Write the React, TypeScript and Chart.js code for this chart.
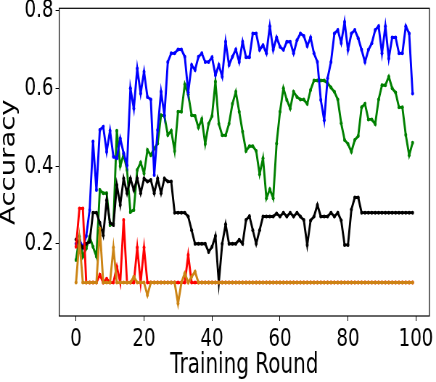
import React, { useEffect, useRef } from "react";
import { Chart, registerables } from "chart.js";

Chart.register(...registerables);

// ---- data ----
const rounds: number[] = Array.from({ length: 100 }, (_, i) => i);

const blueAcc = [
  0.20, 0.21, 0.19, 0.22, 0.287, 0.463, 0.338, 0.493, 0.501, 0.437,
  0.491, 0.424, 0.42, 0.471, 0.433, 0.402, 0.60, 0.548, 0.651, 0.587,
  0.643, 0.578, 0.571, 0.377, 0.493, 0.591, 0.531, 0.668, 0.69, 0.69,
  0.70, 0.70, 0.681, 0.59, 0.66, 0.647, 0.681, 0.69, 0.668, 0.668,
  0.68, 0.634, 0.66, 0.63, 0.72, 0.66, 0.681, 0.70, 0.668, 0.72,
  0.68, 0.68, 0.741, 0.741, 0.699, 0.711, 0.69, 0.76, 0.699, 0.731,
  0.707, 0.699, 0.72, 0.72, 0.69, 0.724, 0.741, 0.735, 0.709, 0.731,
  0.69, 0.668, 0.57, 0.518, 0.626, 0.668, 0.741, 0.75, 0.717, 0.771,
  0.699, 0.741, 0.75, 0.729, 0.699, 0.668, 0.699, 0.716, 0.75, 0.76,
  0.69, 0.76, 0.677, 0.731, 0.731, 0.69, 0.69, 0.76, 0.741, 0.587,
];

const greenAcc = [
  0.158, 0.218, 0.167, 0.188, 0.218, 0.192, 0.167, 0.338, 0.330, 0.330,
  0.248, 0.252, 0.491, 0.40, 0.43, 0.390, 0.282, 0.287, 0.390, 0.409,
  0.381, 0.441, 0.428, 0.445, 0.458, 0.531, 0.529, 0.480, 0.491, 0.439,
  0.540, 0.540, 0.610, 0.585, 0.531, 0.529, 0.499, 0.521, 0.457, 0.509,
  0.529, 0.617, 0.509, 0.479, 0.479, 0.509, 0.560, 0.591, 0.540, 0.488,
  0.439, 0.451, 0.451, 0.439, 0.379, 0.420, 0.317, 0.340, 0.317, 0.458,
  0.540, 0.600, 0.570, 0.548, 0.591, 0.578, 0.571, 0.571, 0.560, 0.596,
  0.620, 0.620, 0.620, 0.620, 0.613, 0.602, 0.591, 0.571, 0.510, 0.467,
  0.457, 0.437, 0.467, 0.477, 0.551, 0.560, 0.520, 0.520, 0.508, 0.571,
  0.608, 0.608, 0.630, 0.600, 0.589, 0.551, 0.551, 0.480, 0.428, 0.460,
];

const blackAcc = [
  0.211, 0.20, 0.19, 0.20, 0.205, 0.28, 0.28, 0.254, 0.222, 0.312,
  0.254, 0.248, 0.351, 0.30, 0.368, 0.33, 0.368, 0.338, 0.368, 0.33,
  0.368, 0.36, 0.364, 0.33, 0.368, 0.33, 0.368, 0.36, 0.36, 0.28,
  0.28, 0.28, 0.28, 0.27, 0.235, 0.20, 0.20, 0.20, 0.20, 0.179,
  0.192, 0.22, 0.10, 0.20, 0.25, 0.20, 0.20, 0.20, 0.21, 0.20,
  0.261, 0.271, 0.235, 0.20, 0.235, 0.27, 0.27, 0.27, 0.27, 0.278,
  0.27, 0.28, 0.27, 0.28, 0.27, 0.28, 0.27, 0.261, 0.197, 0.26,
  0.27, 0.30, 0.27, 0.27, 0.27, 0.28, 0.27, 0.28, 0.26, 0.197,
  0.197, 0.288, 0.319, 0.319, 0.28, 0.28, 0.28, 0.28, 0.28, 0.28,
  0.28, 0.28, 0.28, 0.28, 0.28, 0.28, 0.28, 0.28, 0.28, 0.28,
];

const redAcc = [
  0.192, 0.291, 0.291, 0.1, 0.1, 0.1, 0.1, 0.12, 0.1, 0.11,
  0.1, 0.1, 0.141, 0.1, 0.261, 0.1, 0.1, 0.1, 0.19, 0.1,
  0.19, 0.1, 0.1, 0.1, 0.1, 0.1, 0.1, 0.1, 0.1, 0.1,
  0.1, 0.1, 0.1, 0.171, 0.1, 0.1, 0.1, 0.1, 0.1, 0.1,
  0.1, 0.1, 0.1, 0.1, 0.1, 0.1, 0.1, 0.1, 0.1, 0.1,
  0.1, 0.1, 0.1, 0.1, 0.1, 0.1, 0.1, 0.1, 0.1, 0.1,
  0.1, 0.1, 0.1, 0.1, 0.1, 0.1, 0.1, 0.1, 0.1, 0.1,
  0.1, 0.1, 0.1, 0.1, 0.1, 0.1, 0.1, 0.1, 0.1, 0.1,
  0.1, 0.1, 0.1, 0.1, 0.1, 0.1, 0.1, 0.1, 0.1, 0.1,
  0.1, 0.1, 0.1, 0.1, 0.1, 0.1, 0.1, 0.1, 0.1, 0.1,
];

const orangeAcc = [
  0.1, 0.21, 0.1, 0.1, 0.1, 0.1, 0.1, 0.239, 0.1, 0.1,
  0.1, 0.19, 0.1, 0.1, 0.1, 0.1, 0.1, 0.115, 0.1, 0.1,
  0.1, 0.068, 0.1, 0.1, 0.1, 0.1, 0.1, 0.1, 0.1, 0.1,
  0.046, 0.1, 0.124, 0.1, 0.115, 0.128, 0.1, 0.1, 0.1, 0.1,
  0.1, 0.1, 0.1, 0.1, 0.1, 0.1, 0.1, 0.1, 0.1, 0.1,
  0.1, 0.1, 0.1, 0.1, 0.1, 0.1, 0.1, 0.1, 0.1, 0.1,
  0.1, 0.1, 0.1, 0.1, 0.1, 0.1, 0.1, 0.1, 0.1, 0.1,
  0.1, 0.1, 0.1, 0.1, 0.1, 0.1, 0.1, 0.1, 0.1, 0.1,
  0.1, 0.1, 0.1, 0.1, 0.1, 0.1, 0.1, 0.1, 0.1, 0.1,
  0.1, 0.1, 0.1, 0.1, 0.1, 0.1, 0.1, 0.1, 0.1, 0.1,
];

const xTicks = [0, 20, 40, 60, 80, 100];
const yTicks = [0.2, 0.4, 0.6, 0.8];
const xTitle = "Training Round";
const yTitle = "Accuracy";

// ---- layout (drawn wide, then condensed horizontally like the reference) ----
const W = 601;
const H = 382;
const SX = 436 / W;
const FONT = "'DejaVu Sans', sans-serif";

const framePlugin = {
  id: "frame",
  afterDatasetsDraw(chart: any) {
    const { ctx, chartArea: a } = chart;
    ctx.save();
    ctx.strokeStyle = "#000";
    ctx.lineWidth = 1.2;
    ctx.strokeRect(a.left, a.top, a.right - a.left, a.bottom - a.top);
    ctx.restore();
  },
};

function series(label: string, values: number[], color: string) {
  return {
    label,
    data: rounds.map((r, i) => ({ x: r, y: values[i] })),
    borderColor: color,
    backgroundColor: color,
    borderWidth: 2.9,
    pointRadius: 2,
    pointBorderWidth: 0,
    pointBackgroundColor: color,
    tension: 0,
    fill: false,
  };
}

export default function App() {
  const ref = useRef<HTMLCanvasElement | null>(null);

  useEffect(() => {
    if (!ref.current) return;
    const chart = new Chart(ref.current, {
      type: "line",
      data: {
        datasets: [
          series("orange", orangeAcc, "#cc8414"),
          series("red", redAcc, "#ff0000"),
          series("black", blackAcc, "#000000"),
          series("blue", blueAcc, "#0000ff"),
          series("green", greenAcc, "#008000"),
        ],
      },
      options: {
        animation: false,
        responsive: false,
        devicePixelRatio: 1,
        layout: { padding: { left: 0, right: 9.1, top: 8.3, bottom: 0 } },
        plugins: {
          legend: { display: false },
          tooltip: { enabled: false },
        },
        scales: {
          x: {
            type: "linear",
            min: -4.95,
            max: 103.95,
            afterBuildTicks: (s: any) => {
              s.ticks = xTicks.map((v) => ({ value: v }));
            },
            afterFit: (s: any) => {
              s.height = 66;
              s.paddingLeft = 0;
              s.paddingRight = 0;
            },
            ticks: {
              autoSkip: false,
              maxRotation: 0,
              padding: 3,
              color: "#000",
              font: { family: FONT, size: 25 },
              callback: (v: any) => String(v),
            },
            grid: {
              display: true,
              drawOnChartArea: false,
              drawTicks: true,
              tickLength: 5,
              tickWidth: 1,
              tickColor: "#000",
            },
            border: { display: false },
            title: {
              display: true,
              text: xTitle,
              color: "#000",
              font: { family: FONT, size: 27.5 },
              padding: { top: 0, bottom: 0 },
            },
          },
          y: {
            type: "linear",
            min: 0.014,
            max: 0.806,
            afterBuildTicks: (s: any) => {
              s.ticks = yTicks.map((v) => ({ value: v }));
            },
            afterFit: (s: any) => {
              s.width = 81.6;
              s.paddingTop = 0;
              s.paddingBottom = 0;
            },
            ticks: {
              autoSkip: false,
              padding: 3,
              color: "#000",
              font: { family: FONT, size: 25 },
              callback: (v: any) => Number(v).toFixed(1),
            },
            grid: {
              display: true,
              drawOnChartArea: false,
              drawTicks: true,
              tickLength: 5,
              tickWidth: 1,
              tickColor: "#000",
            },
            border: { display: false },
            title: {
              display: true,
              text: yTitle,
              color: "#000",
              font: { family: FONT, size: 27.5 },
              padding: { top: -4, bottom: 0 },
            },
          },
        },
      },
      plugins: [framePlugin],
    } as any);
    return () => chart.destroy();
  }, []);

  return (
    <div
      style={{
        position: "fixed",
        left: 0,
        top: 0,
        width: 436,
        height: H,
        overflow: "hidden",
        background: "#fff",
      }}
    >
      <div
        style={{
          width: W,
          height: H,
          transform: `scaleX(${SX})`,
          transformOrigin: "0 0",
        }}
      >
        <canvas ref={ref} width={W} height={H} style={{ width: W, height: H, display: "block" }} />
      </div>
    </div>
  );
}
